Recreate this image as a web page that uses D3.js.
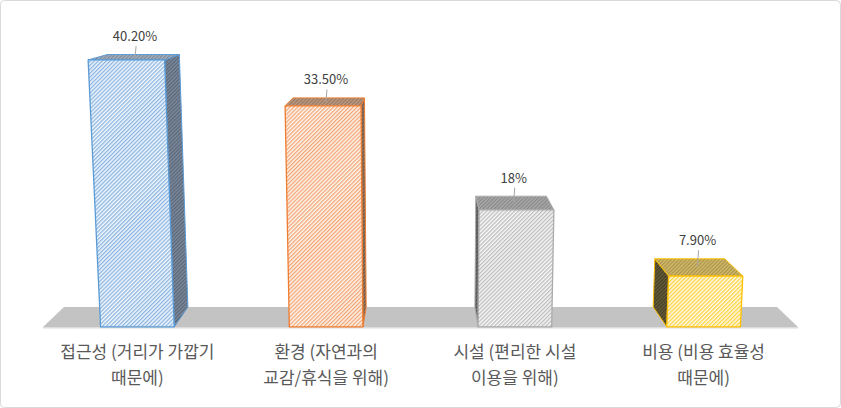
<!DOCTYPE html>
<html>
<head>
<meta charset="utf-8">
<script src="https://cdn.jsdelivr.net/npm/d3@7"></script>
<style>
  html, body { margin: 0; padding: 0; background: #fff; }
  svg { display: block; }
</style>
</head>
<body>
<div id="chart"></div>
<script>
// ---- data ----
const categories = [
  ["접근성 (거리가 가깝기", "때문에)"],
  ["환경 (자연과의", "교감/휴식을 위해)"],
  ["시설 (편리한 시설", "이용을 위해)"],
  ["비용 (비용 효율성", "때문에)"]
];
const values = [40.2, 33.5, 18, 7.9];
const valueLabels = ["40.20%", "33.50%", "18%", "7.90%"];

// ---- styles ----
const edgeColors  = ["#5B9BD5", "#ED7D31", "#ABABAB", "#FFC000"];
const frontBg     = ["#F4F8FD", "#FEF6F0", "#F8F8F8", "#FFFBEA"];
const frontStripe = ["#8AB5E2", "#F3A574", "#BDBDBD", "#FFD23F"];
const topBg       = ["#A3ADBA", "#BA9A82", "#A8A8A8", "#CFB86C"];
const topStripe   = ["#7A899D", "#977560", "#888888", "#AA9245"];
const sideBg      = ["#7C8899", "#8E7564", "#707070", "#635A3A"];
const sideStripe  = ["#566579", "#6B5444", "#505050", "#453E24"];

const W = 841, H = 408;
const svg = d3.select("#chart").append("svg").attr("width", W).attr("height", H);
const defs = svg.append("defs");

function stripePattern(id, bg, fg, size, lw) {
  const p = defs.append("pattern").attr("id", id)
    .attr("patternUnits", "userSpaceOnUse")
    .attr("width", size).attr("height", size)
    .attr("patternTransform", "rotate(45)");
  p.append("rect").attr("width", size).attr("height", size).attr("fill", bg);
  p.append("rect").attr("width", lw).attr("height", size).attr("fill", fg);
}
values.forEach((v, i) => {
  stripePattern("front" + i, frontBg[i], frontStripe[i], 2.8, 1.3);
  stripePattern("top" + i, topBg[i], topStripe[i], 2.6, 1.1);
  stripePattern("side" + i, sideBg[i], sideStripe[i], 2.6, 1.1);
});

// ---- perspective camera ----
const u0 = 421, v0 = 200, f = 1277;
const th = Math.atan(0.1826), sT = Math.sin(th), cT = Math.cos(th);
const camH = 354.3, camDist = 1233.5;
function proj(X, Y, Z) {
  const px = X, py = Y - camH, pz = Z + camDist;
  const xc = px;
  const yc = py * cT + pz * sT;
  const zc = -py * sT + pz * cT;
  return [u0 + f * xc / zc, v0 - f * yc / zc];
}

// ---- scales ----
const xMin = -378, xMax = 377, depth = 76.3;
const x = d3.scaleBand().domain(d3.range(values.length))
  .range([xMin, xMax]).paddingInner(0.61).paddingOuter(0.305);
const y = d3.scaleLinear().domain([0, 50]).range([0, 331]);

const line = d3.line();
function poly(pts) { return line(pts.map(p => proj(p[0], p[1], p[2]))) + "Z"; }

// chart border
svg.append("rect").attr("x", 0.5).attr("y", 0.5).attr("width", W - 1).attr("height", H - 1)
  .attr("rx", 4).attr("fill", "#fff").attr("stroke", "#D9D9D9");

// floor
svg.append("path")
  .attr("d", poly([[xMin, 0, 0], [xMax, 0, 0], [xMax, 0, depth], [xMin, 0, depth]]))
  .attr("fill", "#C3C3C3");
const fl = proj(xMin, 0, 0), fr = proj(xMax, 0, 0);
svg.append("line").attr("x1", fl[0]).attr("x2", fr[0]).attr("y1", fl[1] + 0.8).attr("y2", fr[1] + 0.8)
  .attr("stroke", "#DCDCDC").attr("stroke-width", 1.5);

// bars
const g = svg.append("g");
values.forEach((v, i) => {
  const x0 = x(i), x1 = x(i) + x.bandwidth(), h = y(v);
  const sx = x1 < 0 ? x1 : x0;
  const bg = g.append("g");
  bg.append("path")
    .attr("d", poly([[sx, 0, 0], [sx, 0, depth], [sx, h, depth], [sx, h, 0]]))
    .attr("fill", `url(#side${i})`).attr("stroke", edgeColors[i]).attr("stroke-width", 1)
    .attr("stroke-linejoin", "round");
  bg.append("path")
    .attr("d", poly([[x0, h, 0], [x1, h, 0], [x1, h, depth], [x0, h, depth]]))
    .attr("fill", `url(#top${i})`).attr("stroke", edgeColors[i]).attr("stroke-width", 1)
    .attr("stroke-linejoin", "round");
  bg.append("path")
    .attr("d", poly([[x0, 0, 0], [x1, 0, 0], [x1, h, 0], [x0, h, 0]]))
    .attr("fill", `url(#front${i})`).attr("stroke", edgeColors[i]).attr("stroke-width", 1.3)
    .attr("stroke-linejoin", "round");

  // value label + leader
  const cx = x0 + x.bandwidth() / 2;
  const tc = proj(cx, h, depth / 2);
  const back = proj(cx, h, depth);
  const ly = back[1] - 13.5;
  g.append("line")
    .attr("x1", tc[0] + 1).attr("y1", ly + 5)
    .attr("x2", tc[0]).attr("y2", tc[1])
    .attr("stroke", "#A6A6A6").attr("stroke-width", 1);
  g.append("text")
    .attr("x", tc[0]).attr("y", ly)
    .attr("text-anchor", "middle")
    .attr("font-family", "'Noto Sans CJK KR', 'Noto Sans', sans-serif")
    .attr("font-size", 13).attr("fill", "#404040")
    .text(valueLabels[i]);

  // category label
  const bp = proj(cx, 0, 0);
  const t = g.append("text")
    .attr("text-anchor", "middle")
    .attr("font-family", "'Noto Sans CJK KR', 'Noto Sans', sans-serif")
    .attr("font-size", 17).attr("fill", "#595959");
  categories[i].forEach((ln, k) => {
    t.append("tspan").attr("x", bp[0]).attr("y", 358 + k * 26).text(ln);
  });
});
</script>
</body>
</html>
